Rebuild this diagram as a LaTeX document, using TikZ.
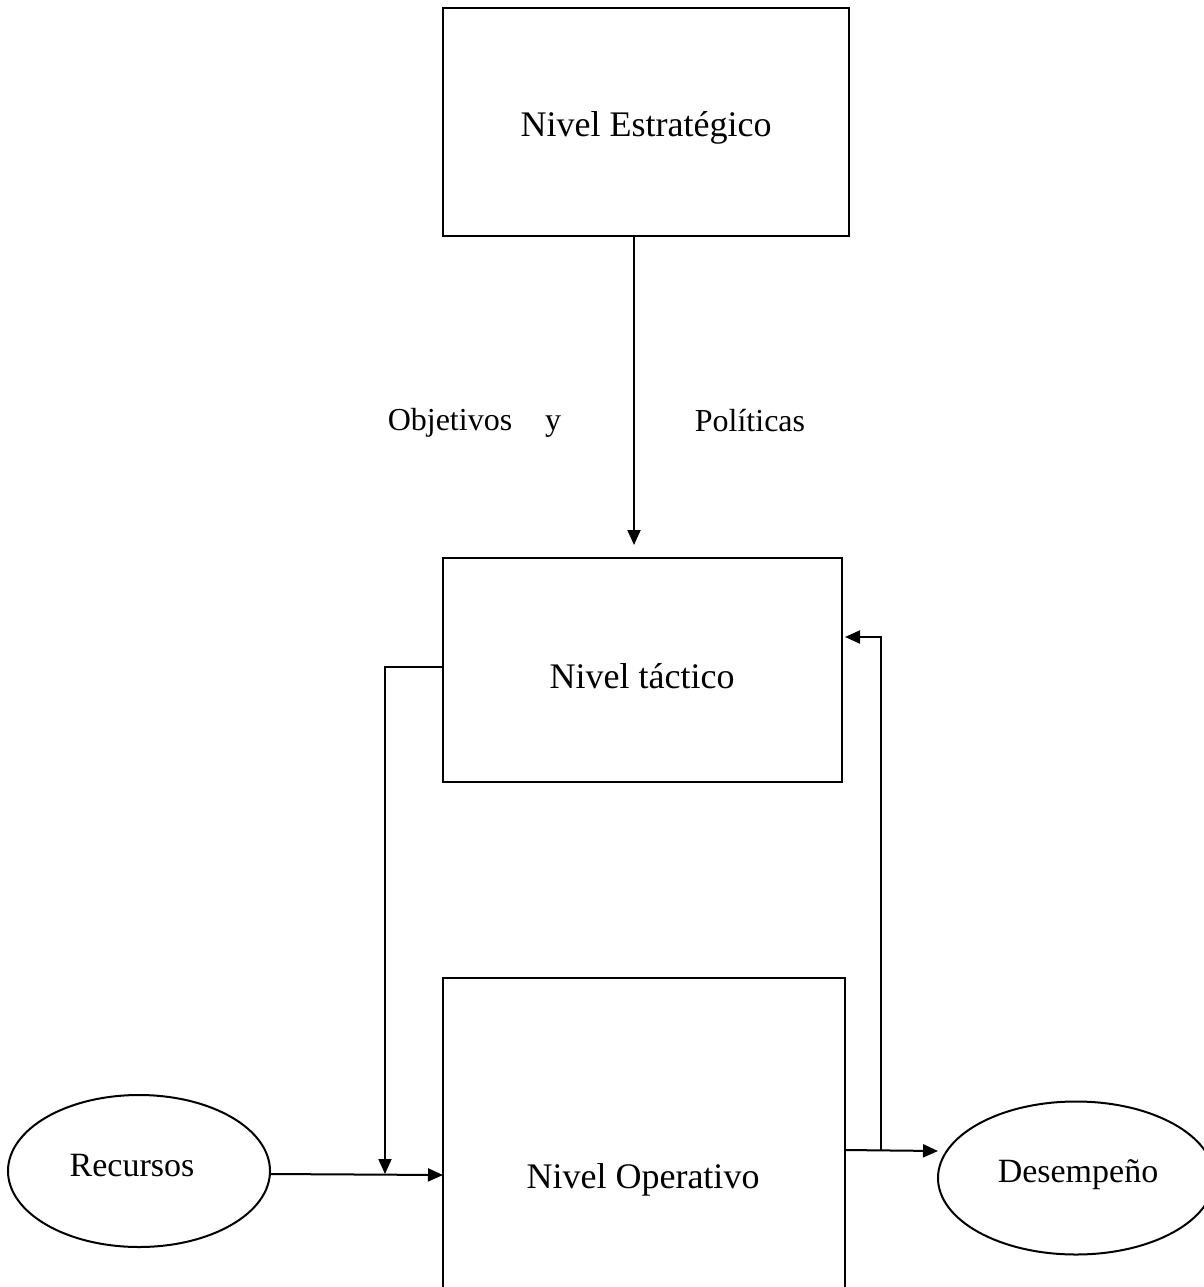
\documentclass[tikz,border=0pt]{standalone}
\usepackage{fontspec}
\setmainfont{Liberation Serif}
\usetikzlibrary{arrows.meta,shapes.geometric}
\begin{document}
\begin{tikzpicture}[x=1pt,y=-1pt,
  line width=2pt,
  lvl/.style={draw,rectangle,inner sep=0pt,font=\fontsize{36}{43}\selectfont},
  ell/.style={draw,ellipse,inner sep=0pt,font=\fontsize{34}{41}\selectfont},
  lbl/.style={inner sep=0pt,font=\fontsize{32}{38}\selectfont},
  arr/.style={-{Triangle[length=15pt,width=13pt]}}]
\useasboundingbox (0,0) rectangle (1203,1287);
\node[lvl,minimum width=406pt,minimum height=228pt] (est) at (646,122) {};
\node[font=\fontsize{36}{43}\selectfont] at (646,128) {Nivel Estratégico};
\node[lvl,minimum width=399pt,minimum height=224pt] (tac) at (642.5,670) {};
\node[font=\fontsize{36}{43}\selectfont] at (642,676) {Nivel táctico};
\node[lvl,minimum width=402pt,minimum height=330pt] (ope) at (644,1143) {};
\node[font=\fontsize{36}{43}\selectfont] at (643,1180) {Nivel Operativo};
\node[ell,minimum width=262pt,minimum height=152pt] (rec) at (139,1171) {};
\node[font=\fontsize{34}{41}\selectfont] at (132,1166) {Recursos};
\node[ell,minimum width=276pt,minimum height=153pt] (des) at (1076,1178) {};
\node[font=\fontsize{34}{41}\selectfont] at (1078,1175) {Desempeño};
\node[lbl] (obj) at (450,423) {Objetivos};
\node[lbl] (yy) at (553,427) {y};
\node[lbl] (pol) at (750,421) {Políticas};
% connectors
\coordinate (a1) at (634,236);
\coordinate (a2) at (634,545);
\draw[arr] (a1) -- (a2);
\coordinate (t1) at (443,667);
\coordinate (t2) at (385,667);
\coordinate (t3) at (385,1174);
\draw[arr] (t1) -- (t2) -- (t3);
\coordinate (r1) at (270,1174);
\coordinate (r2) at (443,1175);
\draw[arr] (r1) -- (r2);
\coordinate (o1) at (845,1150);
\coordinate (o2) at (938,1151);
\draw[arr] (o1) -- (o2);
\coordinate (f1) at (881,1151);
\coordinate (f2) at (881,637);
\coordinate (f3) at (845,637);
\draw[arr] (f1) -- (f2) -- (f3);
\end{tikzpicture}
\end{document}
